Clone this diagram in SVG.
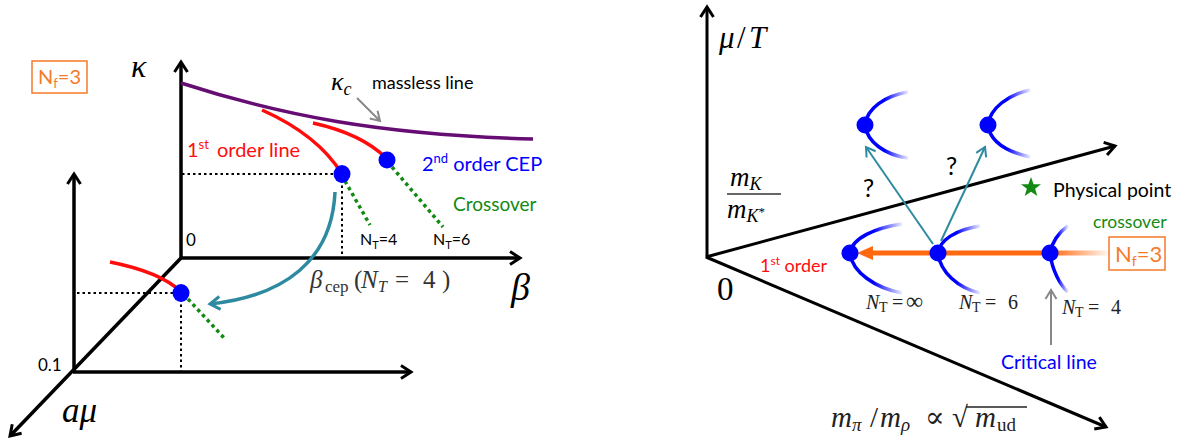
<svg xmlns="http://www.w3.org/2000/svg" width="1180" height="445" viewBox="0 0 1180 445">
<style>
.ax{stroke:#000;stroke-width:3.5;fill:none}
.axr{stroke:#000;stroke-width:3;fill:none}
.dot{fill:#0000ff}
.green{stroke:#138a13;stroke-width:3.5;stroke-dasharray:3.5 3.5;fill:none}
.dotted{stroke:#000;stroke-width:2;stroke-dasharray:2.5 3;fill:none}
.red{stroke:#ff0d0d;stroke-width:3.5;fill:none}
.sans{font-family:Lato,"Open Sans","Liberation Sans",sans-serif}
.math{font-family:"Liberation Serif","DejaVu Serif",serif}
.it{font-style:italic}
.teal{stroke:#2e8aa0;fill:none}
.par{fill:none;stroke-width:3.5;stroke:url(#fade)}
</style>
<defs>
<marker id="ah" markerUnits="userSpaceOnUse" markerWidth="18" markerHeight="18" viewBox="0 0 18 18" refX="14" refY="9" orient="auto">
<path d="M4,2.5 L14,9 L4,15.5" fill="none" stroke="#000" stroke-width="3"/>
</marker>
<marker id="ahT" markerUnits="userSpaceOnUse" markerWidth="18" markerHeight="18" viewBox="0 0 18 18" refX="14" refY="9" orient="auto">
<path d="M4,2.5 L14,9 L4,15.5" fill="none" stroke="#2e8aa0" stroke-width="3"/>
</marker>
<marker id="ahT2" markerUnits="userSpaceOnUse" markerWidth="16" markerHeight="16" viewBox="0 0 16 16" refX="13" refY="8" orient="auto">
<path d="M4,2.5 L13,8 L4,13.5" fill="none" stroke="#2e8aa0" stroke-width="2"/>
</marker>
<marker id="ahG" markerUnits="userSpaceOnUse" markerWidth="16" markerHeight="16" viewBox="0 0 16 16" refX="13" refY="8" orient="auto">
<path d="M4,2.5 L13,8 L4,13.5" fill="none" stroke="#888" stroke-width="2"/>
</marker>
<linearGradient id="fade" x1="0" y1="0" x2="1" y2="0">
<stop offset="0" stop-color="#0000ff"/>
<stop offset="0.45" stop-color="#0000ff"/>
<stop offset="1" stop-color="#0000ff" stop-opacity="0.08"/>
</linearGradient>
<linearGradient id="ofade" gradientUnits="userSpaceOnUse" x1="860" y1="0" x2="1112" y2="0">
<stop offset="0" stop-color="#ff6a10"/>
<stop offset="0.76" stop-color="#ff6a10"/>
<stop offset="1" stop-color="#ff6a10" stop-opacity="0"/>
</linearGradient>
</defs>
<rect width="1180" height="445" fill="#fff"/>

<!-- LEFT PANEL -->
<g id="left-axes">
<line class="ax" x1="181" y1="259" x2="181" y2="62" marker-end="url(#ah)"/>
<line class="ax" x1="181" y1="258" x2="520" y2="258" marker-end="url(#ah)"/>
<line class="ax" x1="181" y1="258" x2="10" y2="436" marker-end="url(#ah)"/>
<line class="ax" x1="74" y1="373" x2="74" y2="174" marker-end="url(#ah)"/>
<line class="ax" x1="73" y1="372" x2="411" y2="372" marker-end="url(#ah)"/>
</g>
<g id="left-labels">
<text class="math it" x="131" y="77" font-size="32">κ</text>
<text class="math it" x="511" y="300" font-size="38">β</text>
<text class="math it" x="62" y="422" font-size="35">aμ</text>
<text class="sans" x="186" y="246" font-size="17">0</text>
<text class="sans" x="38" y="371" font-size="17">0.1</text>
<g id="nf-left">
<rect x="32" y="61" width="55" height="32" fill="none" stroke="#f57a2a" stroke-width="1.5"/>
<text class="sans" x="38" y="84" font-size="20" fill="#f57a2a">N<tspan font-size="13" dy="4">f</tspan><tspan dy="-4">=3</tspan></text>
</g>
<text class="math it" x="331" y="90" font-size="26">κ<tspan font-size="18" dy="5">c</tspan></text>
<text class="sans" x="372" y="89" font-size="18">massless line</text>
<text class="sans" x="187" y="157" font-size="20" fill="#ff0d0d">1<tspan font-size="13" dy="-8">st</tspan><tspan dy="8" dx="8">order line</tspan></text>
<text class="sans" x="422" y="171" font-size="20" fill="#0000ff">2<tspan font-size="13" dy="-8">nd</tspan><tspan dy="8"> order CEP</tspan></text>
<text class="sans" x="453" y="211" font-size="19" fill="#138a13">Crossover</text>
<text class="sans" x="360" y="245" font-size="16">N<tspan font-size="11" dy="4">T</tspan><tspan dy="-4">=4</tspan></text>
<text class="sans" x="433" y="245" font-size="16">N<tspan font-size="11" dy="4">T</tspan><tspan dy="-4">=6</tspan></text>
<text class="math" y="288" font-size="25" fill="#333"><tspan class="it" x="310">β</tspan><tspan font-size="17" x="325" dy="4">cep</tspan><tspan x="354" dy="-4">(</tspan><tspan class="it" x="361">N</tspan><tspan class="it" font-size="16" x="378" dy="4">T</tspan><tspan x="395" dy="-4">=</tspan><tspan x="423">4</tspan><tspan x="442">)</tspan></text>
</g>
<g id="left-curves">
<path d="M181,83 C 280,115 380,135 533,139" fill="none" stroke="#660d73" stroke-width="3.5"/>
<path class="red" d="M262,110 Q 318,135 342,174"/>
<path class="red" d="M313,123 Q 362,134 386,158"/>
<path class="red" d="M110,262 Q 160,272 180,291"/>
<path class="green" d="M345,181 L370,225"/>
<path class="green" d="M392,167 L443,227"/>
<path class="green" d="M188,299 L226,340"/>
<path class="dotted" d="M182,174 H338 M342,180 V257"/>
<path class="dotted" d="M77,293 H177 M181,299 V371"/>
<line x1="357" y1="98" x2="380" y2="121" stroke="#888" stroke-width="2" marker-end="url(#ahG)"/>
<path class="teal" stroke-width="3.5" d="M335,192 C 332,260 285,296 210,304" marker-end="url(#ahT)"/>
</g>
<g id="left-points">
<ellipse class="dot" cx="342" cy="174" rx="8.5" ry="9"/>
<ellipse class="dot" cx="387" cy="160" rx="8.5" ry="8.5"/>
<ellipse class="dot" cx="181" cy="293" rx="8.5" ry="9"/>
</g>

<!-- RIGHT PANEL -->
<g id="right-axes">
<line class="axr" x1="707" y1="258" x2="707" y2="7" marker-end="url(#ah)"/>
<line class="axr" x1="706" y1="257" x2="1115" y2="146" marker-end="url(#ah)"/>
<line class="axr" x1="706" y1="257" x2="1106" y2="427" marker-end="url(#ah)"/>
</g>
<g id="right-labels">
<text class="math" y="48" font-size="31"><tspan class="it" x="719">μ</tspan><tspan x="737">/</tspan><tspan class="it" x="749">T</tspan></text>
<text class="math it" x="730" y="186" font-size="27">m<tspan font-size="18" dy="4">K</tspan></text>
<line x1="727" y1="194" x2="781" y2="194" stroke="#333" stroke-width="1.3"/>
<text class="math it" x="727" y="218" font-size="27">m<tspan font-size="18" dy="4">K</tspan><tspan font-size="13" dy="-6" font-style="normal">*</tspan></text>
<text class="math" x="717" y="300" font-size="33">0</text>
<text class="sans" x="863" y="197" font-size="25">?</text>
<text class="sans" x="946" y="175" font-size="25">?</text>
<text class="sans" x="760" y="272" font-size="18" fill="#ff0d0d">1<tspan font-size="12" dy="-7">st</tspan><tspan dy="7"> order</tspan></text>
<text class="sans" x="1093" y="228" font-size="17.5" fill="#138a13">crossover</text>
<text class="sans" x="1053" y="197" font-size="19.5">Physical point</text>
<text class="math" y="309" font-size="20" fill="#222"><tspan class="it" x="866">N</tspan><tspan font-size="14" x="879" dy="3">T</tspan><tspan x="892" dy="-3">=</tspan><tspan x="906" font-size="24">∞</tspan></text>
<text class="math" y="309" font-size="20" fill="#222"><tspan class="it" x="959">N</tspan><tspan font-size="14" x="972" dy="3">T</tspan><tspan x="985" dy="-3">=</tspan><tspan x="1008">6</tspan></text>
<text class="math" y="314" font-size="20" fill="#222"><tspan class="it" x="1062">N</tspan><tspan font-size="14" x="1075" dy="3">T</tspan><tspan x="1088" dy="-3">=</tspan><tspan x="1111">4</tspan></text>
<text class="sans" x="1001" y="369" font-size="19.5" fill="#0000ff">Critical line</text>
<text class="math" y="427" font-size="29" fill="#222"><tspan class="it" x="831">m</tspan><tspan class="it" font-size="19" x="852" dy="4">π</tspan><tspan x="870" dy="-4">/</tspan><tspan class="it" x="880">m</tspan><tspan class="it" font-size="19" x="901" dy="4">ρ</tspan><tspan x="925" dy="-4">∝</tspan><tspan x="952">√</tspan><tspan class="it" x="975">m</tspan><tspan font-size="19" x="997" dy="4">ud</tspan></text>
<line x1="966" y1="407" x2="1027" y2="407" stroke="#222" stroke-width="1.4"/>
<g id="nf-right">
<rect x="1109" y="237" width="56" height="33" fill="#fff" stroke="#f57a2a" stroke-width="1.5"/>
<text class="sans" x="1115" y="262" font-size="22" fill="#f57a2a">N<tspan font-size="14" dy="4">f</tspan><tspan dy="-4">=3</tspan></text>
</g>
<path d="M1031,177 L1033.6,184.2 L1041,184.3 L1035.1,188.8 L1037.3,196 L1031,191.7 L1024.7,196 L1026.9,188.8 L1021,184.3 L1028.4,184.2 Z" fill="#138a13"/>
</g>
<g id="right-connectors">
<line x1="933" y1="244" x2="866" y2="147" class="teal" stroke-width="2" marker-end="url(#ahT2)"/>
<line x1="941" y1="241" x2="985" y2="147" class="teal" stroke-width="2" marker-end="url(#ahT2)"/>
<line x1="870" y1="253" x2="1110" y2="253" stroke="url(#ofade)" stroke-width="5"/>
<path d="M857,253 L873,246 L873,260 Z" fill="#ff6a10"/>
<line x1="1051" y1="345" x2="1051" y2="290" stroke="#888" stroke-width="2" marker-end="url(#ahG)"/>
</g>
<g id="right-points">
<path class="par" d="M908,92 C 885,96 867,108 865,125 C 867,142 885,155 908,158"/>
<path class="par" d="M1030,90 C 1008,95 990,108 988,125 C 990,142 1008,152 1030,157"/>
<path class="par" d="M902,224 C 875,228 852,238 850,253 C 852,272 875,288 902,293"/>
<path class="par" d="M980,226 C 955,230 940,240 938,253 C 940,272 958,288 980,293"/>
<path class="par" d="M1068,226 C 1058,233 1052,243 1050,253 C 1052,270 1060,285 1068,292"/>
<circle class="dot" cx="865" cy="125" r="8.5"/>
<circle class="dot" cx="988" cy="125" r="8.5"/>
<circle class="dot" cx="850" cy="253" r="8.5"/>
<circle class="dot" cx="938" cy="253" r="8.5"/>
<circle class="dot" cx="1050" cy="253" r="8.5"/>
</g>
</svg>
